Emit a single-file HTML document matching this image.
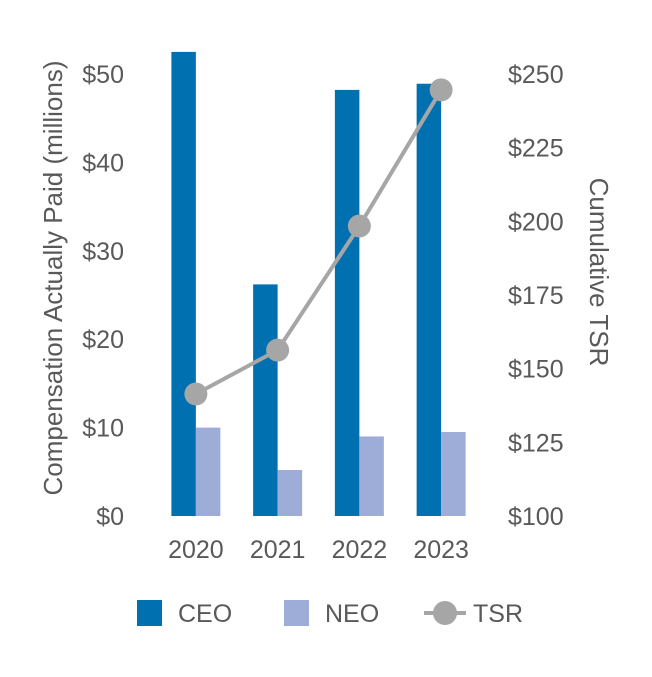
<!DOCTYPE html>
<html><head><meta charset="utf-8"><style>
html,body{margin:0;padding:0;background:#fff;}
svg text{font-family:"Liberation Sans",Arial,sans-serif;fill:#595959;}
</style></head><body>
<svg id="chart" width="652" height="672" viewBox="0 0 652 672" xmlns="http://www.w3.org/2000/svg">
<g id="bars"></g>
<g id="line"></g>
<g id="axes"></g>
<text transform="translate(62,278) rotate(-90)" text-anchor="middle" font-size="26">Compensation Actually Paid (millions)</text>
<text transform="translate(590,272) rotate(90)" text-anchor="middle" font-size="26">Cumulative TSR</text>
<g>
<rect x="137" y="600" width="25" height="26" fill="#0070b0"/>
<text x="178" y="622" font-size="25">CEO</text>
<rect x="284" y="600" width="25" height="26" fill="#9dadd8"/>
<text x="325" y="622" font-size="25">NEO</text>
<line x1="424" y1="613" x2="466" y2="613" stroke="#a6a6a6" stroke-width="4"/>
<circle cx="445" cy="613" r="12" fill="#a6a6a6"/>
<text x="473" y="622" font-size="25">TSR</text>
</g>
</svg>
<script>
const years = ["2020","2021","2022","2023"];
const ceo = [52.5, 26.2, 48.2, 48.9];
const neo = [10.0, 5.2, 9.0, 9.5];
const tsr = [141.4, 156.3, 198.4, 244.6];
const leftTicks = [0,10,20,30,40,50];
const rightTicks = [100,125,150,175,200,225,250];

const NS = "http://www.w3.org/2000/svg";
const plotL = 155, plotR = 482, y0 = 516, yTop = 74;
const band = (plotR - plotL) / years.length;
const barW = 24.5;
const yL = v => y0 - (v / 50) * (y0 - yTop);
const yR = v => y0 - ((v - 100) / 150) * (y0 - yTop);
const xC = i => plotL + band * (i + 0.5);
function mk(tag, attrs, parent) {
  const e = document.createElementNS(NS, tag);
  for (const k in attrs) e.setAttribute(k, attrs[k]);
  parent.appendChild(e);
  return e;
}
const gb = document.getElementById("bars");
const gl = document.getElementById("line");
const ga = document.getElementById("axes");
years.forEach((y, i) => {
  const c = mk("rect", {x: xC(i) - barW, y: yL(ceo[i]), width: barW, height: y0 - yL(ceo[i]), fill: "#0070b0"}, gb);
  
  
  const n = mk("rect", {x: xC(i), y: yL(neo[i]), width: barW, height: y0 - yL(neo[i]), fill: "#9dadd8"}, gb);
  
  
  const t = mk("text", {x: xC(i), y: 558, "text-anchor": "middle", "font-size": 25}, ga);
  t.textContent = y;
  
  
});
const pts = tsr.map((v, i) => xC(i) + "," + yR(v)).join(" ");
const pl = mk("polyline", {points: pts, fill: "none", stroke: "#a6a6a6", "stroke-width": 4}, gl);


tsr.forEach((v, i) => {
  const c = mk("circle", {cx: xC(i), cy: yR(v), r: 11.5, fill: "#a6a6a6"}, gl);
  
  
});
leftTicks.forEach(v => {
  const t = mk("text", {x: 124, y: yL(v) + 9, "text-anchor": "end", "font-size": 25}, ga);
  t.textContent = "$" + v;
  
  
});
rightTicks.forEach(v => {
  const t = mk("text", {x: 508, y: yR(v) + 9, "text-anchor": "start", "font-size": 25}, ga);
  t.textContent = "$" + v;
  
  
});
</script>
</body></html>
